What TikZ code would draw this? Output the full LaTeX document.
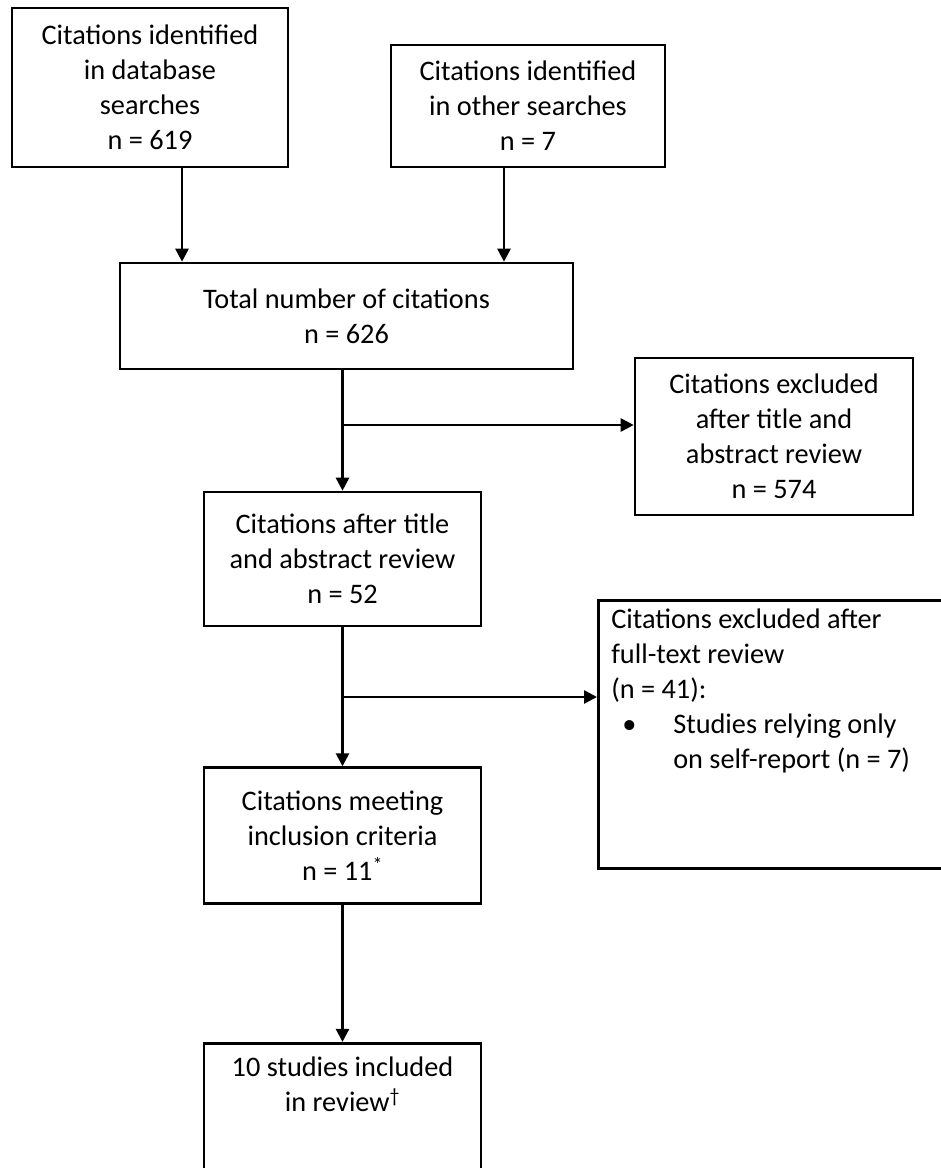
\documentclass[tikz,border=0pt]{standalone}
\usepackage{fontspec}
\setmainfont{Carlito}
\usetikzlibrary{arrows.meta,positioning}

\begin{document}
\begin{tikzpicture}[
    x=1pt, y=-1pt,
    node distance=40pt,
    box/.style={rectangle, draw, line width=2.6pt, minimum width=277pt, inner sep=0pt, align=center, font=\fontsize{28.3}{35}\selectfont},
    arrow/.style={-{Triangle[length=13pt, width=13pt]}, line width=2.6pt}
]

\path[use as bounding box, clip] (0,0) rectangle (941,1168);

% === IDENTIFICATION (top) ===
\node[box, minimum width=276pt, minimum height=159pt] (db_cit) at (150, 87.5) {Citations identified\\in database\\searches\\n = 619};
\node[box, minimum width=274pt, minimum height=122pt] (other_cit) at (528, 106) {Citations identified\\in other searches\\n = 7};

\node[box, minimum width=453pt, minimum height=106pt] (total) at (346.5, 316) {Total number of citations\\n = 626};

% === SCREENING ===
\node[box, minimum width=278pt, minimum height=157pt] (excl_title) at (774, 436.5) {Citations excluded\\after title and\\abstract review\\n = 574};
\node[box, minimum height=134pt] (screened) at (342.5, 559) {Citations after title\\and abstract review\\n = 52};

% === ELIGIBILITY ===
\node[box, anchor=north west, align=left, inner xsep=13pt, inner ysep=9pt] (excl_text) at (597, 599) {%
  \begin{minipage}[t][250pt][t]{340pt}
  Citations excluded after\\
  full-text review\\
  (n = 41):\\
  \makebox[62pt][l]{\hspace{11pt}\textbullet}Studies relying only\\
  \hspace*{62pt}on self-report (n = 7)
  \end{minipage}};
\node[box, minimum height=136pt, below=139pt of screened] (included) {Citations meeting\\inclusion criteria\\n = 11\textsuperscript{*}};

% === INCLUDED (bottom) ===
\node[box, inner ysep=14pt, below=137pt of included] (final) {%
  \begin{minipage}[t][160pt][t]{277pt}
  \centering
  10 studies included\\
  in review\textsuperscript{\textdagger}
  \end{minipage}};

% === ARROWS ===
\draw[arrow] ([xshift=32pt]db_cit.south) -- ([xshift=32pt]db_cit.south |- total.north);
\draw[arrow] ([xshift=-24pt]other_cit.south) -- ([xshift=-24pt]other_cit.south |- total.north);

\draw[arrow] (screened.north |- total.south) -- (screened);
\coordinate (split_title) at (screened.north |- 0,425);
\draw[arrow] (split_title) -- (split_title -| excl_title.west);

\draw[arrow] (screened) -- (included);
\coordinate (split_text) at (screened.south |- 0,697);
\draw[arrow] (split_text) -- (split_text -| excl_text.west);

\draw[arrow] (included) -- (final);

\end{tikzpicture}
\end{document}
